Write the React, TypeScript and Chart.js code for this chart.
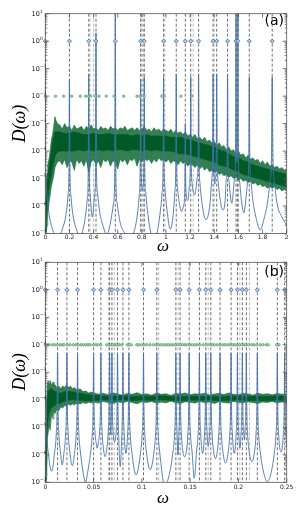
import React, { useEffect, useRef } from 'react';
import { Chart, registerables } from 'chart.js';
Chart.register(...registerables);

// ---------------- shared axis data ----------------
const Y_EXPONENTS = [1, 0, -1, -2, -3, -4, -5, -6, -7];

// ---------------- panel (a) ----------------
const A_XTICKS = [0, 0.2, 0.4, 0.6, 0.8, 1, 1.2, 1.4, 1.6, 1.8, 2];
const A_XLABELS = ['0', '0.2', '0.4', '0.6', '0.8', '1', '1.2', '1.4', '1.6', '1.8', '2'];
const A_BLUE_FREQS = [0, 0.2, 0.36, 0.42, 0.58, 0.79, 0.82, 0.98, 1.085, 1.16, 1.205, 1.27, 1.39, 1.42, 1.51, 1.58, 1.595, 1.69, 1.88];
const A_GREEN_FREQS = [0, 0.085, 0.152, 0.218, 0.29, 0.335, 0.36, 0.375, 0.415, 0.445, 0.505, 0.57, 0.65, 0.76, 0.785, 0.82, 0.966, 0.985, 1.123, 1.214];
const A_LIGHT_LINES = [0.37, 0.4, 0.795, 0.805, 0.815, 0.99, 1.225, 1.4, 1.59, 1.6];
// blue spectrum: [omega, log10 D]
const A_BLUE_CURVE = [
  [0, -1.0], [0.004, -4.5], [0.012, -5.45], [0.03, -6.25], [0.06, -6.85], [0.09, -7.2], [0.11, -7.4],
  [0.13, -7.0], [0.17, -6.35], [0.188, -5.6], [0.196, -4.6], [0.2, -1.4], [0.204, -4.6], [0.212, -5.6], [0.23, -6.35], [0.27, -7.0], [0.29, -7.3],
  [0.305, -7.0], [0.33, -6.45], [0.348, -5.7], [0.356, -4.7], [0.36, -1.2], [0.364, -4.7], [0.372, -5.6], [0.39, -6.4], [0.408, -5.6], [0.416, -4.6], [0.42, 0.3], [0.424, -4.6], [0.432, -5.5], [0.45, -6.2], [0.48, -6.75], [0.51, -7.05],
  [0.54, -6.6], [0.565, -5.9], [0.575, -4.9], [0.58, 1.2], [0.585, -4.9], [0.595, -5.9], [0.62, -6.6], [0.66, -7.0], [0.7, -7.25],
  [0.73, -7.0], [0.76, -6.4], [0.778, -5.6], [0.786, -4.6], [0.79, -1.4], [0.794, -4.6], [0.8, -5.3], [0.805, -5.45], [0.81, -5.3], [0.816, -4.6], [0.82, -1.3], [0.824, -4.6], [0.832, -5.5], [0.85, -6.3], [0.875, -7.0], [0.9, -7.3],
  [0.925, -7.0], [0.95, -6.3], [0.968, -5.5], [0.976, -4.5], [0.98, -1.3], [0.984, -4.5], [0.992, -5.4], [1.01, -6.2], [1.035, -6.85],
  [1.06, -6.3], [1.073, -5.5], [1.081, -4.5], [1.085, -1.2], [1.089, -4.5], [1.097, -5.4], [1.115, -6.0], [1.13, -6.2],
  [1.145, -6.0], [1.156, -5.4], [1.16, -3.0], [1.164, -5.3], [1.18, -5.8],
  [1.193, -5.3], [1.201, -4.4], [1.205, -1.3], [1.209, -4.4], [1.217, -5.2], [1.237, -5.6],
  [1.258, -5.0], [1.266, -4.3], [1.27, -1.2], [1.274, -4.3], [1.282, -5.2], [1.3, -5.95], [1.33, -6.5],
  [1.365, -5.9], [1.378, -5.1], [1.386, -4.3], [1.39, -1.2], [1.394, -4.3], [1.4, -4.95], [1.405, -5.2], [1.41, -4.95], [1.416, -4.3], [1.42, -1.2], [1.424, -4.3], [1.432, -5.1], [1.45, -5.8], [1.47, -6.15],
  [1.49, -5.8], [1.498, -5.1], [1.506, -4.3], [1.51, -1.2], [1.514, -4.3], [1.522, -5.1], [1.545, -5.9],
  [1.568, -5.0], [1.576, -4.2], [1.58, 1.2], [1.584, -4.1], [1.5875, -4.4], [1.591, -4.1], [1.595, 1.2], [1.599, -4.2], [1.607, -5.0], [1.625, -5.8], [1.645, -6.25],
  [1.665, -5.6], [1.678, -5.0], [1.686, -4.2], [1.69, -1.3], [1.694, -4.2], [1.702, -5.0], [1.72, -5.8], [1.75, -6.5], [1.78, -6.87], [1.81, -6.5],
  [1.84, -5.9], [1.862, -5.1], [1.874, -4.2], [1.88, -1.3], [1.886, -4.2], [1.898, -5.1], [1.92, -5.9], [1.96, -6.4], [2.0, -6.7],
];
// green noisy spectrum: dense core envelopes (log10 D)
const A_CORE_W = [0, 0.005, 0.01, 0.015, 0.02, 0.03, 0.04, 0.05, 0.06, 0.07, 0.08, 0.09, 0.1, 0.12, 0.16, 0.2, 0.24, 0.28, 0.32, 0.36, 0.4, 0.44, 0.48, 0.52, 0.56, 0.6, 0.64, 0.68, 0.72, 0.76, 0.8, 0.84, 0.88, 0.92, 0.96, 1.0, 1.04, 1.08, 1.12, 1.16, 1.2, 1.24, 1.28, 1.32, 1.36, 1.4, 1.44, 1.48, 1.52, 1.56, 1.6, 1.64, 1.68, 1.72, 1.76, 1.8, 1.84, 1.88, 1.92, 1.96, 2.0];
const A_CORE_HI = [-6.9, -6.0, -5.4, -5.1, -4.9, -4.6, -4.3, -4.0, -3.7, -3.5, -3.3, -3.3, -3.3, -3.3, -3.35, -3.35, -3.3, -3.35, -3.4, -3.4, -3.35, -3.4, -3.4, -3.35, -3.4, -3.4, -3.4, -3.4, -3.45, -3.4, -3.45, -3.4, -3.45, -3.45, -3.45, -3.45, -3.5, -3.5, -3.5, -3.55, -3.6, -3.65, -3.7, -3.75, -3.8, -3.85, -3.95, -4.0, -4.1, -4.2, -4.25, -4.35, -4.4, -4.5, -4.55, -4.6, -4.65, -4.7, -4.75, -4.8, -4.85];
const A_CORE_LO = [-7.0, -6.6, -6.3, -6.0, -5.8, -5.4, -5.1, -4.9, -4.6, -4.4, -4.2, -4.1, -4.05, -4.0, -4.0, -4.0, -4.0, -3.95, -4.0, -3.95, -4.0, -3.95, -4.0, -3.95, -4.0, -3.95, -3.95, -4.0, -3.95, -3.95, -4.0, -3.95, -4.0, -3.95, -4.0, -4.0, -4.0, -4.05, -4.1, -4.1, -4.15, -4.2, -4.25, -4.3, -4.35, -4.4, -4.5, -4.55, -4.6, -4.7, -4.75, -4.85, -4.9, -4.95, -5.0, -5.05, -5.1, -5.15, -5.2, -5.25, -5.3];
// ragged outer edges of the noise: [omega, log10 D]
const A_FUZZ_HI = [
  [0, -6.6], [0.005, -5.6], [0.01, -5.0], [0.015, -4.8], [0.02, -4.5], [0.03, -4.3], [0.04, -4.0], [0.05, -3.6], [0.06, -3.4], [0.07, -3.1], [0.08, -2.75], [0.09, -2.9], [0.1, -3.0],
  [0.12, -3.05], [0.14, -3.2], [0.16, -3.0], [0.18, -3.15], [0.2, -3.1], [0.22, -3.25], [0.24, -3.05], [0.26, -3.2], [0.28, -3.15], [0.3, -3.1], [0.32, -3.25], [0.34, -3.1], [0.36, -3.2], [0.38, -3.05], [0.4, -3.2], [0.42, -3.15], [0.44, -3.25], [0.46, -3.1], [0.48, -3.2], [0.5, -3.15],
  [0.52, -3.25], [0.54, -3.1], [0.56, -3.2], [0.58, -3.15], [0.6, -3.25], [0.62, -3.15], [0.64, -3.2], [0.66, -3.1], [0.68, -3.25], [0.7, -3.2], [0.72, -3.15], [0.74, -3.25], [0.76, -3.15], [0.78, -3.25], [0.8, -3.2], [0.82, -3.1], [0.84, -3.25], [0.86, -3.2], [0.88, -3.3], [0.9, -3.15],
  [0.92, -3.25], [0.94, -3.2], [0.96, -3.3], [0.98, -3.2], [1.0, -3.25], [1.02, -3.3], [1.04, -3.2], [1.06, -3.35], [1.08, -3.25], [1.1, -3.35], [1.12, -3.3], [1.14, -3.4], [1.16, -3.3], [1.18, -3.45], [1.2, -3.4], [1.22, -3.5], [1.24, -3.4], [1.26, -3.55], [1.28, -3.5], [1.3, -3.6],
  [1.32, -3.5], [1.34, -3.65], [1.36, -3.6], [1.38, -3.7], [1.4, -3.65], [1.42, -3.8], [1.44, -3.7], [1.46, -3.85], [1.48, -3.8], [1.5, -3.95], [1.52, -3.85], [1.54, -4.0], [1.56, -3.95], [1.58, -4.1], [1.6, -4.0], [1.62, -4.15], [1.64, -4.1], [1.66, -4.25], [1.68, -4.15], [1.7, -4.3],
  [1.72, -4.25], [1.74, -4.35], [1.76, -4.3], [1.78, -4.45], [1.8, -4.35], [1.82, -4.5], [1.84, -4.4], [1.86, -4.55], [1.88, -4.5], [1.9, -4.6], [1.92, -4.55], [1.94, -4.65], [1.96, -4.6], [1.98, -4.7], [2.0, -4.65],
];
const A_FUZZ_LO = [
  [0, -7.1], [0.005, -7.1], [0.01, -6.9], [0.015, -6.7], [0.02, -6.3], [0.03, -5.9], [0.04, -5.6], [0.05, -5.3], [0.06, -5.1], [0.07, -4.9], [0.08, -4.6], [0.09, -4.5], [0.1, -4.4],
  [0.12, -4.35], [0.14, -4.5], [0.16, -4.3], [0.18, -4.6], [0.2, -4.35], [0.22, -4.4], [0.24, -4.7], [0.26, -4.3], [0.28, -4.45], [0.3, -4.35], [0.32, -4.55], [0.34, -4.3], [0.36, -4.8], [0.38, -4.4], [0.4, -4.3], [0.42, -4.5], [0.44, -4.35], [0.46, -4.6], [0.48, -4.3], [0.5, -4.4],
  [0.52, -4.3], [0.54, -4.55], [0.56, -4.35], [0.58, -4.4], [0.6, -4.65], [0.62, -4.3], [0.64, -4.4], [0.66, -4.3], [0.68, -4.5], [0.7, -4.3], [0.72, -4.35], [0.74, -4.25], [0.76, -4.55], [0.78, -4.3], [0.8, -4.4], [0.82, -4.25], [0.84, -4.35], [0.86, -4.3], [0.88, -4.45], [0.9, -4.3],
  [0.92, -4.4], [0.94, -4.25], [0.96, -4.35], [0.98, -4.3], [1.0, -4.4], [1.02, -4.3], [1.04, -4.45], [1.06, -4.35], [1.08, -4.4], [1.1, -4.5], [1.12, -4.35], [1.14, -4.45], [1.16, -4.4], [1.18, -4.55], [1.2, -4.45], [1.22, -4.5], [1.24, -4.6], [1.26, -4.5], [1.28, -4.65], [1.3, -4.55],
  [1.32, -4.7], [1.34, -4.6], [1.36, -4.75], [1.38, -4.7], [1.4, -4.8], [1.42, -4.7], [1.44, -4.85], [1.46, -4.8], [1.48, -4.9], [1.5, -4.85], [1.52, -4.95], [1.54, -4.9], [1.56, -5.0], [1.58, -4.95], [1.6, -5.05], [1.62, -5.0], [1.64, -5.1], [1.66, -5.05], [1.68, -5.15], [1.7, -5.1],
  [1.72, -5.2], [1.74, -5.15], [1.76, -5.25], [1.78, -5.2], [1.8, -5.3], [1.82, -5.25], [1.84, -5.35], [1.86, -5.3], [1.88, -5.35], [1.9, -5.3], [1.92, -5.4], [1.94, -5.35], [1.96, -5.45], [1.98, -5.4], [2.0, -5.45],
];

// ---------------- panel (b) ----------------
const B_XTICKS = [0, 0.05, 0.1, 0.15, 0.2, 0.25];
const B_XLABELS = ['0', '0.05', '0.1', '0.15', '0.2', '0.25'];
const B_BLUE_FREQS = [0, 0.0127, 0.0224, 0.0334, 0.05, 0.0576, 0.0666, 0.069, 0.0748, 0.0804, 0.0866, 0.1017, 0.1155, 0.1352, 0.1396, 0.149, 0.1596, 0.1662, 0.1714, 0.181, 0.1924, 0.199, 0.2041, 0.2082, 0.2196, 0.2403, 0.2479];
const B_GREEN_FREQS = [0, 0.0014, 0.0038, 0.0073, 0.0097, 0.0124, 0.0152, 0.0176, 0.0194, 0.0228, 0.0256, 0.029, 0.0318, 0.0342, 0.037, 0.0394, 0.0419, 0.0442, 0.0463, 0.0497, 0.0525, 0.0549, 0.0574, 0.0636, 0.0657, 0.0677, 0.0698, 0.0722, 0.0739, 0.0763, 0.0791, 0.0849, 0.087, 0.0891, 0.0947, 0.0971, 0.0998, 0.1022, 0.105, 0.1084, 0.1119, 0.1146, 0.117, 0.1195, 0.1222, 0.125, 0.1274, 0.1302, 0.1326, 0.1351, 0.1371, 0.1402, 0.1423, 0.1447, 0.1471, 0.1498, 0.1522, 0.155, 0.1574, 0.1602, 0.1636, 0.1671, 0.1705, 0.1729, 0.175, 0.1781, 0.1809, 0.1837, 0.1861, 0.1889, 0.1913, 0.1941, 0.1965, 0.1989, 0.2009, 0.2034, 0.2058, 0.2079, 0.2103, 0.2138, 0.2162, 0.219, 0.2224, 0.2252, 0.2286, 0.231, 0.2396, 0.242];
const B_LIGHT_LINES = [0.0655, 0.0715, 0.1175, 0.1375, 0.1687, 0.2015, 0.2115];
const B_BLUE_CURVE = [
  [0, -2.3], [0.0005, -4.3], [0.0013, -5.2], [0.003, -5.9], [0.0065, -6.6],
  [0.0097, -5.9], [0.0114, -5.2], [0.0122, -4.3], [0.0127, -2.3], [0.0132, -4.3], [0.014, -5.2], [0.0157, -5.9], [0.0175, -6.37],
  [0.0194, -5.9], [0.0211, -5.2], [0.0219, -4.3], [0.0224, -2.3], [0.0229, -4.3], [0.0237, -5.2], [0.0254, -5.9], [0.028, -6.4],
  [0.0304, -5.9], [0.0321, -5.2], [0.0329, -4.3], [0.0334, -2.3], [0.0339, -4.3], [0.0347, -5.2], [0.0364, -5.9], [0.039, -6.6], [0.0417, -7.0],
  [0.044, -6.6], [0.047, -5.9], [0.0487, -5.2], [0.0495, -4.3], [0.05, -2.3], [0.0505, -4.3], [0.0513, -5.1], [0.0528, -5.6], [0.0537, -5.76],
  [0.0548, -5.6], [0.0563, -5.1], [0.0571, -4.3], [0.0576, -2.3], [0.0581, -4.3], [0.0589, -5.2], [0.0603, -5.8], [0.062, -6.07],
  [0.0636, -5.8], [0.0653, -5.1], [0.0661, -4.3], [0.0666, -2.3], [0.0671, -4.3], [0.0678, -5.28],
  [0.0685, -4.3], [0.069, -2.3], [0.0695, -4.3], [0.0703, -5.2], [0.0718, -5.52],
  [0.0735, -5.1], [0.0743, -4.3], [0.0748, -2.3], [0.0753, -4.3], [0.0761, -5.4], [0.0776, -6.43], [0.0791, -5.4],
  [0.0799, -4.3], [0.0804, -2.3], [0.0809, -4.3], [0.0817, -5.2], [0.0835, -5.95],
  [0.0853, -5.2], [0.0861, -4.3], [0.0866, -2.3], [0.0871, -4.3], [0.0879, -5.2], [0.0896, -5.9], [0.094, -6.73],
  [0.0987, -5.9], [0.1004, -5.2], [0.1012, -4.3], [0.1017, -2.3], [0.1022, -4.3], [0.103, -5.2], [0.1047, -5.9], [0.1086, -6.55],
  [0.1125, -5.9], [0.1142, -5.2], [0.115, -4.3], [0.1155, -2.3], [0.116, -4.3], [0.1168, -5.2], [0.1185, -5.9], [0.1235, -7.1],
  [0.1322, -5.9], [0.1339, -5.2], [0.1347, -4.3], [0.1352, -2.3], [0.1357, -4.3], [0.1365, -5.3], [0.1374, -6.0],
  [0.1383, -5.3], [0.1391, -4.3], [0.1396, -2.3], [0.1401, -4.3], [0.1409, -5.2], [0.1426, -5.9], [0.1443, -6.07],
  [0.146, -5.9], [0.1477, -5.2], [0.1485, -4.3], [0.149, -2.3], [0.1495, -4.3], [0.1503, -5.2], [0.152, -5.9], [0.1543, -6.85],
  [0.1566, -5.9], [0.1583, -5.2], [0.1591, -4.3], [0.1596, -2.3], [0.1601, -4.3], [0.1609, -5.2], [0.1629, -5.95],
  [0.1649, -5.2], [0.1657, -4.3], [0.1662, -2.3], [0.1667, -4.3], [0.1675, -5.2], [0.1688, -5.7],
  [0.1701, -5.2], [0.1709, -4.3], [0.1714, -2.3], [0.1719, -4.3], [0.1727, -5.2], [0.1744, -5.9], [0.1762, -6.13],
  [0.178, -5.9], [0.1797, -5.2], [0.1805, -4.3], [0.181, -2.3], [0.1815, -4.3], [0.1823, -5.2], [0.184, -5.9], [0.1867, -6.3],
  [0.1894, -5.9], [0.1911, -5.2], [0.1919, -4.3], [0.1924, -2.3], [0.1929, -4.3], [0.1937, -5.2], [0.1957, -5.95],
  [0.1977, -5.2], [0.1985, -4.3], [0.199, -2.3], [0.1995, -4.3], [0.2003, -5.2], [0.2015, -5.76],
  [0.2028, -5.2], [0.2036, -4.3], [0.2041, -2.3], [0.2046, -4.3], [0.2054, -5.1], [0.2062, -5.46],
  [0.2069, -5.1], [0.2077, -4.3], [0.2082, -2.3], [0.2087, -4.3], [0.2095, -5.2], [0.2112, -5.9], [0.2139, -6.25],
  [0.2166, -5.9], [0.2183, -5.2], [0.2191, -4.3], [0.2196, -2.3], [0.2201, -4.3], [0.2209, -5.2], [0.2226, -5.9], [0.2265, -6.7], [0.23, -6.98], [0.2335, -6.7],
  [0.2373, -5.9], [0.239, -5.2], [0.2398, -4.3], [0.2403, -2.3], [0.2408, -4.3], [0.2416, -5.2], [0.2441, -5.89],
  [0.2466, -5.2], [0.2474, -4.3], [0.2479, -2.3], [0.2484, -4.3], [0.2492, -5.2], [0.25, -5.7],
];
const B_CORE_W = [0, 0.0005, 0.001, 0.0015, 0.002, 0.003, 0.004, 0.005, 0.006, 0.008, 0.01, 0.012, 0.014, 0.017, 0.02, 0.023, 0.026, 0.03, 0.034, 0.038, 0.042, 0.046, 0.05, 0.06, 0.07, 0.08, 0.09, 0.1, 0.11, 0.12, 0.13, 0.14, 0.15, 0.16, 0.17, 0.18, 0.19, 0.2, 0.21, 0.22, 0.23, 0.24, 0.25];
const B_CORE_HI = [-7.0, -6.2, -5.3, -4.5, -3.9, -3.7, -3.65, -3.6, -3.6, -3.65, -3.7, -3.7, -3.75, -3.75, -3.7, -3.7, -3.7, -3.72, -3.75, -3.78, -3.8, -3.82, -3.83, -3.86, -3.87, -3.85, -3.88, -3.86, -3.88, -3.85, -3.87, -3.89, -3.86, -3.88, -3.87, -3.89, -3.87, -3.86, -3.88, -3.87, -3.88, -3.86, -3.88];
const B_CORE_LO = [-7.1, -6.8, -6.3, -5.6, -5.0, -4.7, -4.5, -4.4, -4.3, -4.25, -4.2, -4.15, -4.15, -4.1, -4.05, -4.05, -4.0, -4.0, -4.02, -4.02, -4.03, -4.03, -4.03, -4.0, -4.02, -4.0, -4.03, -4.01, -4.02, -4.0, -4.02, -4.03, -4.01, -4.02, -4.01, -4.03, -4.02, -4.01, -4.03, -4.02, -4.03, -4.01, -4.02];
const B_FUZZ_HI = [
  [0, -6.9], [0.0005, -5.8], [0.001, -4.8], [0.0015, -4.0], [0.002, -3.4], [0.003, -3.3], [0.004, -3.45], [0.005, -3.3], [0.006, -3.4], [0.007, -3.5], [0.008, -3.35], [0.009, -3.5], [0.01, -3.45],
  [0.012, -3.55], [0.014, -3.5], [0.016, -3.6], [0.018, -3.5], [0.02, -3.55], [0.022, -3.45], [0.024, -3.55], [0.026, -3.5], [0.028, -3.6], [0.03, -3.55], [0.033, -3.65], [0.036, -3.6], [0.039, -3.7], [0.042, -3.68], [0.045, -3.75], [0.048, -3.72],
  [0.05, -3.74], [0.055, -3.8], [0.06, -3.76], [0.065, -3.82], [0.07, -3.75], [0.075, -3.79], [0.08, -3.83], [0.085, -3.77], [0.09, -3.8], [0.095, -3.74], [0.1, -3.81], [0.105, -3.78], [0.11, -3.83], [0.115, -3.76],
  [0.12, -3.8], [0.125, -3.78], [0.13, -3.84], [0.135, -3.77], [0.14, -3.79], [0.145, -3.75], [0.15, -3.82], [0.155, -3.78], [0.16, -3.8], [0.165, -3.76], [0.17, -3.83], [0.175, -3.79], [0.18, -3.77], [0.185, -3.81],
  [0.19, -3.75], [0.195, -3.8], [0.2, -3.82], [0.205, -3.77], [0.21, -3.79], [0.215, -3.83], [0.22, -3.76], [0.225, -3.8], [0.23, -3.78], [0.235, -3.82], [0.24, -3.77], [0.245, -3.8], [0.25, -3.79],
];
const B_FUZZ_LO = [
  [0, -7.2], [0.0005, -7.1], [0.001, -6.9], [0.0015, -6.2], [0.002, -5.4], [0.003, -5.2], [0.004, -4.9], [0.005, -5.1], [0.006, -4.7], [0.007, -4.5], [0.008, -4.7], [0.009, -4.4], [0.01, -4.5],
  [0.012, -4.35], [0.014, -4.4], [0.016, -4.25], [0.018, -4.3], [0.02, -4.2], [0.022, -4.25], [0.024, -4.15], [0.026, -4.2], [0.028, -4.15], [0.03, -4.18], [0.033, -4.12], [0.036, -4.15], [0.039, -4.1], [0.042, -4.13], [0.045, -4.09], [0.048, -4.12],
  [0.05, -4.08], [0.055, -4.12], [0.06, -4.06], [0.065, -4.1], [0.07, -4.13], [0.075, -4.07], [0.08, -4.11], [0.085, -4.05], [0.09, -4.1], [0.095, -4.14], [0.1, -4.07], [0.105, -4.1], [0.11, -4.06], [0.115, -4.12],
  [0.12, -4.08], [0.125, -4.11], [0.13, -4.05], [0.135, -4.1], [0.14, -4.13], [0.145, -4.07], [0.15, -4.09], [0.155, -4.12], [0.16, -4.06], [0.165, -4.1], [0.17, -4.08], [0.175, -4.13], [0.18, -4.07], [0.185, -4.1],
  [0.19, -4.12], [0.195, -4.06], [0.2, -4.09], [0.205, -4.11], [0.21, -4.07], [0.215, -4.1], [0.22, -4.13], [0.225, -4.08], [0.23, -4.1], [0.235, -4.06], [0.24, -4.11], [0.245, -4.08], [0.25, -4.1],
];

type PanelCfg = {
  height: number;
  xmax: number;
  pad: { left: number; top: number; right: number; bottom: number };
  xticks: number[];
  xlabels: string[];
  blueFreqs: number[];
  greenFreqs: number[];
  lightLines: number[];
  curve: number[][];
  coreW: number[];
  coreHi: number[];
  coreLo: number[];
  fuzzHi: number[][];
  fuzzLo: number[][];
  tag: string;
  tagY: number;
  xLabelY: number;
  xTitleBase: number;
  yTitleY: number;
};

const decorPlugin = {
  id: 'decor',
  beforeDatasetsDraw(chart: any, _a: any, o: any) {
    const { ctx, chartArea: a } = chart;
    const xs = chart.scales.x;
    ctx.save();
    ctx.beginPath();
    ctx.rect(a.left, a.top, a.right - a.left, a.bottom - a.top);
    ctx.clip();
    ctx.setLineDash([3, 2]);
    ctx.lineWidth = 0.8;
    const drawSet = (arr: number[], color: string) => {
      ctx.strokeStyle = color;
      for (const w of arr) {
        const px = xs.getPixelForValue(w);
        ctx.beginPath();
        ctx.moveTo(px, a.top);
        ctx.lineTo(px, a.bottom);
        ctx.stroke();
      }
    };
    drawSet(o.light, 'rgba(150,150,150,0.8)');
    drawSet(o.dark, 'rgba(45,45,45,0.85)');
    ctx.restore();
  },
  afterDraw(chart: any, _a: any, o: any) {
    const { ctx, chartArea: a } = chart;
    const xs = chart.scales.x;
    const ys = chart.scales.y;
    ctx.save();
    ctx.setLineDash([]);
    ctx.strokeStyle = '#555';
    ctx.lineWidth = 0.8;
    ctx.strokeRect(a.left, a.top, a.right - a.left, a.bottom - a.top);
    ctx.beginPath();
    for (const e of Y_EXPONENTS) {
      const py = ys.getPixelForValue(Math.pow(10, e));
      ctx.moveTo(a.left, py); ctx.lineTo(a.left + 4, py);
      ctx.moveTo(a.right, py); ctx.lineTo(a.right - 4, py);
      if (e < 1) {
        for (let m = 2; m <= 9; m++) {
          const pm = ys.getPixelForValue(m * Math.pow(10, e));
          ctx.moveTo(a.left, pm); ctx.lineTo(a.left + 2, pm);
          ctx.moveTo(a.right, pm); ctx.lineTo(a.right - 2, pm);
        }
      }
    }
    for (const t of o.xticks) {
      const px = xs.getPixelForValue(t);
      ctx.moveTo(px, a.bottom); ctx.lineTo(px, a.bottom - 4);
      ctx.moveTo(px, a.top); ctx.lineTo(px, a.top + 4);
    }
    ctx.stroke();

    ctx.fillStyle = '#222';
    for (const e of Y_EXPONENTS) {
      const py = ys.getPixelForValue(Math.pow(10, e));
      ctx.font = '6.5px "DejaVu Sans"';
      ctx.textAlign = 'left';
      ctx.textBaseline = 'middle';
      ctx.fillText('10', 31.5, py + 0.5);
      const w10 = ctx.measureText('10').width;
      ctx.font = '4.5px "DejaVu Sans"';
      ctx.fillText(String(e).replace('-', '\u2212'), 31.5 + w10 + 0.2, py - 2.3);
    }
    ctx.font = '6px "DejaVu Sans"';
    ctx.textAlign = 'center';
    ctx.textBaseline = 'middle';
    o.xticks.forEach((t: number, i: number) => {
      ctx.fillText(o.xlabels[i], xs.getPixelForValue(t), o.xLabelY);
    });
    ctx.fillStyle = '#000';
    ctx.font = 'italic 17px "Liberation Serif"';
    ctx.textAlign = 'center';
    ctx.textBaseline = 'alphabetic';
    ctx.fillText('\u03c9', (a.left + a.right) / 2 - 3, o.xTitleBase);
    ctx.save();
    ctx.translate(25, o.yTitleY);
    ctx.rotate(-Math.PI / 2);
    ctx.font = 'italic 18px "Liberation Serif"';
    ctx.fillText('D(\u03c9)', 0, 0);
    ctx.restore();
    ctx.font = '14px "DejaVu Sans"';
    ctx.textAlign = 'right';
    ctx.textBaseline = 'middle';
    ctx.fillText(o.tag, 284, o.tagY);
    ctx.restore();
  },
};

const pts = (ws: number[], ls: number[]) => ws.map((w, i) => ({ x: w, y: Math.pow(10, ls[i]) }));
const pairPts = (p: number[][]) => p.map((q) => ({ x: q[0], y: Math.pow(10, q[1]) }));

function buildConfig(c: PanelCfg): any {
  const line = (data: any[], color: string, fill: any, bg: string, bw: number) => ({
    data,
    borderColor: color,
    borderWidth: bw,
    pointRadius: 0,
    fill,
    backgroundColor: bg,
    tension: 0,
  });
  return {
    type: 'line',
    data: {
      datasets: [
        {
          data: c.blueFreqs.map((w) => ({ x: w, y: 1 })),
          showLine: false,
          pointStyle: 'rectRot',
          pointRadius: 2.1,
          pointBackgroundColor: '#b3c9e4',
          pointBorderColor: '#3d6da8',
          pointBorderWidth: 0.8,
          clip: false,
        },
        {
          data: c.greenFreqs.map((w) => ({ x: w, y: 0.01 })),
          showLine: false,
          pointStyle: 'circle',
          pointRadius: 1.25,
          pointBackgroundColor: '#a9d8b8',
          pointBorderColor: '#4f9c6d',
          pointBorderWidth: 0.7,
          clip: false,
        },
        {
          data: pairPts(c.curve),
          borderColor: '#4574ad',
          borderWidth: 0.9,
          pointRadius: 0,
          fill: false,
          cubicInterpolationMode: 'monotone',
        },
        line(pts(c.coreW, c.coreHi), '#005a28', '+1', '#005a28', 0.6),
        line(pts(c.coreW, c.coreLo), '#005a28', false, '#005a28', 0.6),
        line(pairPts(c.fuzzHi), 'rgba(20,115,60,0.9)', '+1', 'rgba(15,105,52,0.85)', 0.7),
        line(pairPts(c.fuzzLo), 'rgba(20,115,60,0.9)', false, 'rgba(15,105,52,0.85)', 0.7),
      ],
    },
    options: {
      animation: false,
      responsive: false,
      devicePixelRatio: 1,
      events: [],
      layout: { padding: c.pad },
      plugins: {
        legend: { display: false },
        tooltip: { enabled: false },
        decor: {
          light: c.lightLines,
          dark: c.blueFreqs,
          xticks: c.xticks,
          xlabels: c.xlabels,
          tag: c.tag,
          tagY: c.tagY,
          xLabelY: c.xLabelY,
          xTitleBase: c.xTitleBase,
          yTitleY: c.yTitleY,
        },
      },
      scales: {
        x: { type: 'linear', min: 0, max: c.xmax, display: false },
        y: { type: 'logarithmic', min: 1e-7, max: 10, display: false },
      },
    },
    plugins: [decorPlugin],
  };
}

const PANEL_A: PanelCfg = {
  height: 255, xmax: 2,
  pad: { left: 45.3, top: 13.7, right: 16.3, bottom: 21.5 },
  xticks: A_XTICKS, xlabels: A_XLABELS,
  blueFreqs: A_BLUE_FREQS, greenFreqs: A_GREEN_FREQS, lightLines: A_LIGHT_LINES,
  curve: A_BLUE_CURVE,
  coreW: A_CORE_W, coreHi: A_CORE_HI, coreLo: A_CORE_LO, fuzzHi: A_FUZZ_HI, fuzzLo: A_FUZZ_LO,
  tag: '(a)', tagY: 21, xLabelY: 237.5, xTitleBase: 251, yTitleY: 123.6,
};

const PANEL_B: PanelCfg = {
  height: 268, xmax: 0.25,
  pad: { left: 45.3, top: 7.3, right: 16.3, bottom: 40.7 },
  xticks: B_XTICKS, xlabels: B_XLABELS,
  blueFreqs: B_BLUE_FREQS, greenFreqs: B_GREEN_FREQS, lightLines: B_LIGHT_LINES,
  curve: B_BLUE_CURVE,
  coreW: B_CORE_W, coreHi: B_CORE_HI, coreLo: B_CORE_LO, fuzzHi: B_FUZZ_HI, fuzzLo: B_FUZZ_LO,
  tag: '(b)', tagY: 17.5, xLabelY: 232.5, xTitleBase: 248, yTitleY: 117,
};

function Panel({ cfg }: { cfg: PanelCfg }) {
  const ref = useRef<HTMLCanvasElement>(null);
  useEffect(() => {
    const chart = new Chart(ref.current as HTMLCanvasElement, buildConfig(cfg));
    return () => chart.destroy();
  }, [cfg]);
  return (
    <canvas
      ref={ref}
      width={303}
      height={cfg.height}
      style={{ display: 'block', width: 303, height: cfg.height }}
    />
  );
}

export default function App() {
  return (
    <div style={{ position: 'absolute', left: 0, top: 0, width: 303, height: 523, background: '#fff' }}>
      <Panel cfg={PANEL_A} />
      <Panel cfg={PANEL_B} />
    </div>
  );
}
